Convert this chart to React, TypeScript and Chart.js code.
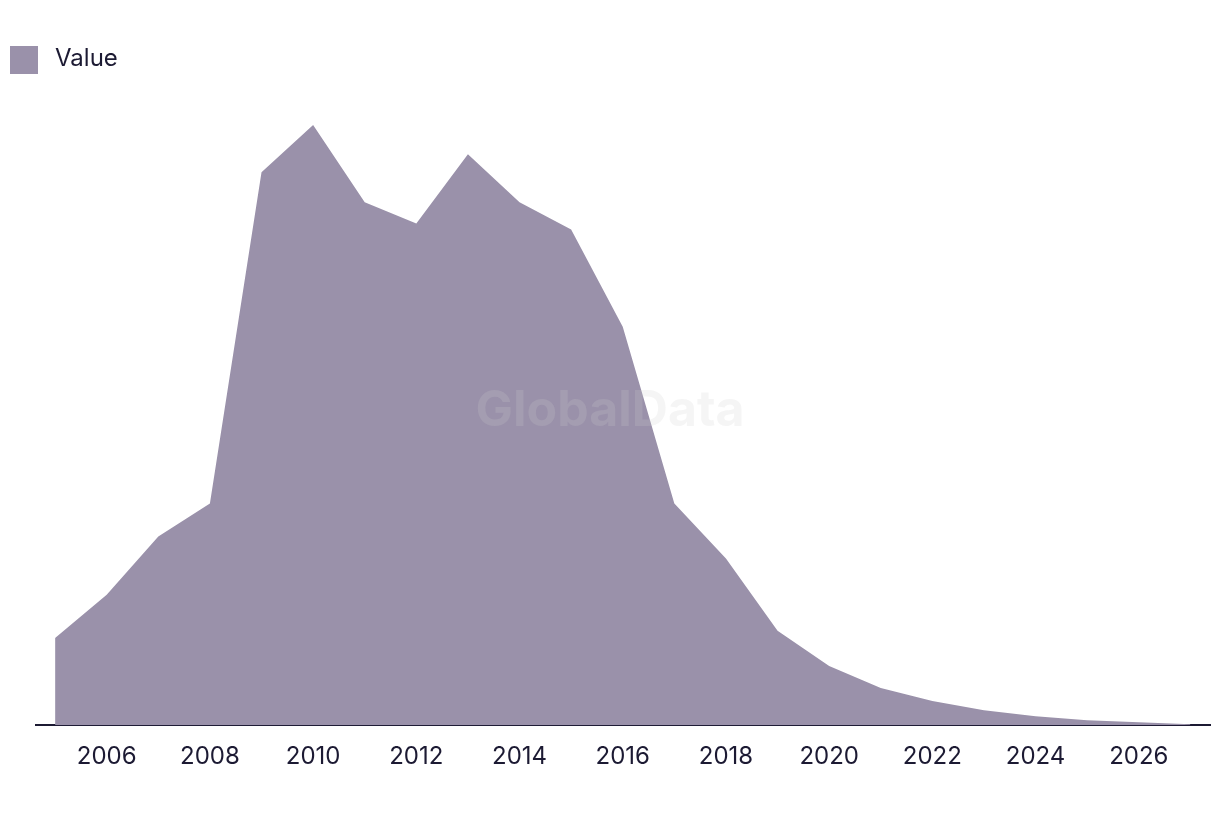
import React, { useEffect, useRef } from "react";
import { Chart, registerables } from "chart.js";

Chart.register(...registerables);

const years = [2005, 2006, 2007, 2008, 2009, 2010, 2011, 2012, 2013, 2014, 2015, 2016, 2017, 2018, 2019, 2020, 2021, 2022, 2023, 2024, 2025, 2026, 2027];
const values = [87, 130, 188, 221, 551, 598, 521, 500, 569, 521, 494, 397, 221, 166, 94, 59, 37, 24, 15, 9, 5, 3, 1];
const tickYears = [2006, 2008, 2010, 2012, 2014, 2016, 2018, 2020, 2022, 2024, 2026];
const seriesLabel = "Value";

const FILL = "rgb(154,145,170)";
const INK = "#1c1a33";
const FONT = "Inter, 'Noto Sans', sans-serif";

export default function App() {
  const ref = useRef<HTMLCanvasElement | null>(null);

  useEffect(() => {
    if (!ref.current) return;
    const chart = new Chart(ref.current, {
      type: "line",
      data: {
        datasets: [
          {
            label: seriesLabel,
            data: years.map((y, i) => ({ x: y, y: values[i] })),
            backgroundColor: FILL,
            borderColor: FILL,
            borderWidth: 0,
            pointRadius: 0,
            fill: "origin",
            tension: 0,
          },
        ],
      },
      options: {
        animation: false,
        responsive: false,
        maintainAspectRatio: false,
        layout: { padding: { top: 100, left: 36, right: 10, bottom: 28 } },
        plugins: {
          legend: { display: false },
          tooltip: { enabled: false },
        },
        scales: {
          x: {
            type: "linear",
            min: 2004.63,
            max: 2027.38,
            grid: { display: false, drawTicks: false },
            border: { display: true, color: INK, width: 2 },
            afterBuildTicks: (scale: any) => {
              scale.ticks = tickYears.map((v) => ({ value: v }));
            },
            ticks: {
              padding: 17,
              color: INK,
              font: { family: FONT, size: 24 },
              maxRotation: 0,
              autoSkip: false,
              callback: (v: any) => String(v),
            },
          },
          y: {
            display: false,
            min: 0,
            max: 623,
          },
        },
      },
    });
    return () => chart.destroy();
  }, []);

  return (
    <div style={{ position: "absolute", left: 0, top: 0, width: 1220, height: 816, background: "#fff", fontFamily: FONT }}>
      <canvas ref={ref} width={1220} height={816} style={{ position: "absolute", left: 0, top: 0 }} />
      <div style={{ position: "absolute", left: 10, top: 46, width: 28, height: 28, background: FILL }} />
      <div style={{ position: "absolute", left: 55, top: 42, fontSize: 24, lineHeight: "32px", color: INK }}>{seriesLabel}</div>
      <div
        style={{
          position: "absolute",
          left: 0,
          width: 1220,
          top: 378,
          textAlign: "center",
          fontSize: 50,
          fontWeight: 700,
          lineHeight: "60px",
          color: "rgba(207,207,207,0.2)",
          pointerEvents: "none",
        }}
      >
        GlobalData
      </div>
    </div>
  );
}
